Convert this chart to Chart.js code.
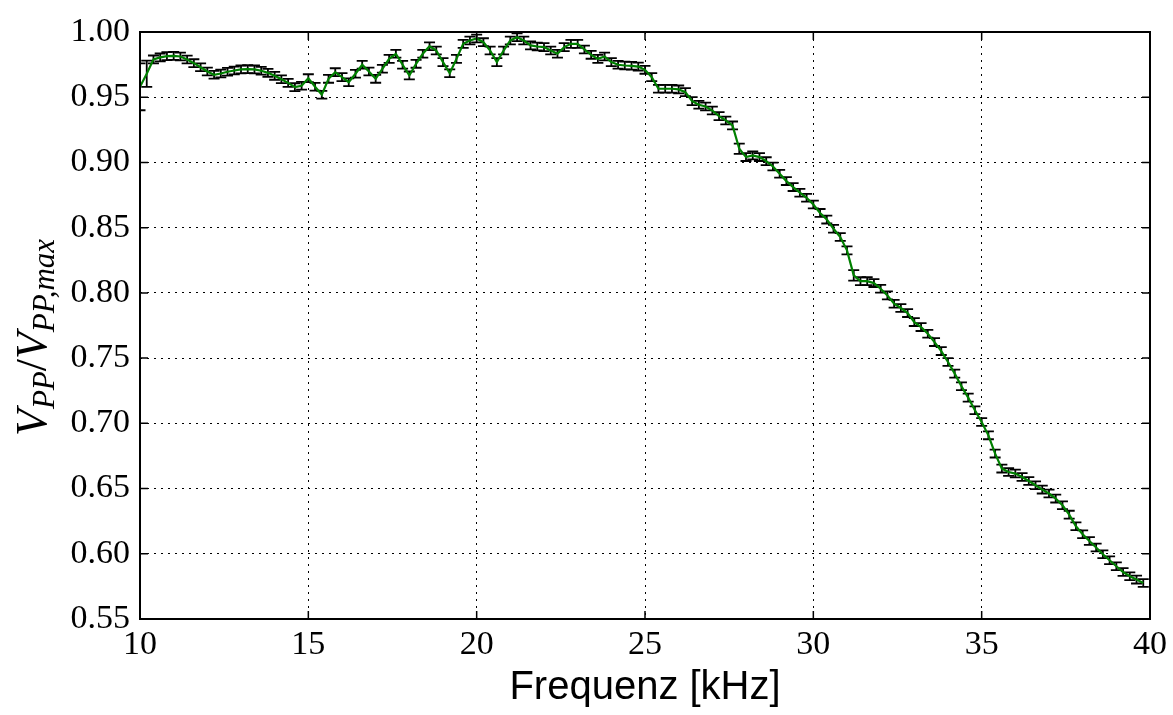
<!DOCTYPE html>
<html>
<head>
<meta charset="utf-8">
<script src="https://cdn.jsdelivr.net/npm/chart.js@4.4.0/dist/chart.umd.min.js"></script>
<style>
  html, body { margin: 0; padding: 0; background: #fff; }
  #wrap { width: 1173px; height: 715px; }
</style>
</head>
<body>
<div id="wrap"><canvas id="chart" width="1173" height="715"></canvas></div>
<script>
// Frequency in kHz
const freq = [
  10.0, 10.2, 10.4, 10.6, 10.8, 11.0, 11.2, 11.4, 11.6, 11.8,
  12.0, 12.2, 12.4, 12.6, 12.8, 13.0, 13.2, 13.4, 13.6, 13.8,
  14.0, 14.2, 14.4, 14.6, 14.8, 15.0, 15.2, 15.4, 15.6, 15.8,
  16.0, 16.2, 16.4, 16.6, 16.8, 17.0, 17.2, 17.4, 17.6, 17.8,
  18.0, 18.2, 18.4, 18.6, 18.8, 19.0, 19.2, 19.4, 19.6, 19.8,
  20.0, 20.2, 20.4, 20.6, 20.8, 21.0, 21.2, 21.4, 21.6, 21.8,
  22.0, 22.2, 22.4, 22.6, 22.8, 23.0, 23.2, 23.4, 23.6, 23.8,
  24.0, 24.2, 24.4, 24.6, 24.8, 25.0, 25.2, 25.4, 25.6, 25.8,
  26.0, 26.2, 26.4, 26.6, 26.8, 27.0, 27.2, 27.4, 27.6, 27.8,
  28.0, 28.2, 28.4, 28.6, 28.8, 29.0, 29.2, 29.4, 29.6, 29.8,
  30.0, 30.2, 30.4, 30.6, 30.8, 31.0, 31.2, 31.4, 31.6, 31.8,
  32.0, 32.2, 32.4, 32.6, 32.8, 33.0, 33.2, 33.4, 33.6, 33.8,
  34.0, 34.2, 34.4, 34.6, 34.8, 35.0, 35.2, 35.4, 35.6, 35.8,
  36.0, 36.2, 36.4, 36.6, 36.8, 37.0, 37.2, 37.4, 37.6, 37.8,
  38.0, 38.2, 38.4, 38.6, 38.8, 39.0, 39.2, 39.4, 39.6, 39.8
];

// V_PP / V_PP,max
const vpp = [
  0.958, 0.968, 0.979, 0.9805, 0.9815, 0.9817, 0.9812, 0.9789, 0.9761, 0.973,
  0.9697, 0.9672, 0.9682, 0.9695, 0.9705, 0.9713, 0.9715, 0.9713, 0.9703, 0.9687,
  0.9664, 0.9638, 0.961, 0.9577, 0.9588, 0.9646, 0.958, 0.9519, 0.9641, 0.9692,
  0.9654, 0.9615, 0.968, 0.9749, 0.9697, 0.9641, 0.9718, 0.9794, 0.9833, 0.9749,
  0.9667, 0.9756, 0.9833, 0.9891, 0.9858, 0.9769, 0.9684, 0.9794, 0.9909, 0.9935,
  0.995, 0.9922, 0.9858, 0.9769, 0.9858, 0.9935, 0.996, 0.9935, 0.9897, 0.9889,
  0.9884, 0.9858, 0.9833, 0.9884, 0.9909, 0.9909, 0.9866, 0.9825, 0.9794, 0.9812,
  0.9769, 0.9749, 0.9743, 0.9741, 0.9735, 0.971, 0.9654, 0.9565, 0.9565, 0.9565,
  0.956, 0.9539, 0.947, 0.9442, 0.9429, 0.9398, 0.9355, 0.9322, 0.9284, 0.9105,
  0.9041, 0.9054, 0.9041, 0.901, 0.8969, 0.8913, 0.8857, 0.8811, 0.8768, 0.8729,
  0.8678, 0.8613, 0.8562, 0.8492, 0.8428, 0.8326, 0.8134, 0.809, 0.809, 0.8075,
  0.8032, 0.7981, 0.7917, 0.7884, 0.7845, 0.7776, 0.7738, 0.7687, 0.7623, 0.7554,
  0.747, 0.7381, 0.7284, 0.7197, 0.71, 0.701, 0.6908, 0.6768, 0.6653, 0.6627,
  0.6615, 0.6589, 0.6558, 0.6525, 0.6492, 0.6462, 0.6423, 0.6372, 0.63, 0.6211,
  0.615, 0.6098, 0.6048, 0.5996, 0.595, 0.5904, 0.586, 0.5828, 0.5802, 0.5776
];

// error of each point
const vppErr = [
  0.018, 0.010, 0.003, 0.003, 0.003, 0.003, 0.003, 0.003, 0.003, 0.003,
  0.003, 0.003, 0.003, 0.003, 0.003, 0.003, 0.003, 0.003, 0.003, 0.003,
  0.003, 0.003, 0.003, 0.003, 0.003, 0.003, 0.003, 0.003, 0.003, 0.003,
  0.003, 0.003, 0.003, 0.003, 0.003, 0.003, 0.003, 0.003, 0.003, 0.003,
  0.003, 0.003, 0.003, 0.003, 0.003, 0.003, 0.003, 0.003, 0.003, 0.003,
  0.003, 0.003, 0.003, 0.003, 0.003, 0.003, 0.003, 0.003, 0.003, 0.003,
  0.003, 0.003, 0.003, 0.003, 0.003, 0.003, 0.003, 0.003, 0.003, 0.003,
  0.003, 0.003, 0.003, 0.003, 0.003, 0.003, 0.003, 0.003, 0.003, 0.003,
  0.003, 0.003, 0.003, 0.003, 0.003, 0.003, 0.003, 0.003, 0.003, 0.004,
  0.003, 0.003, 0.003, 0.003, 0.003, 0.003, 0.003, 0.003, 0.003, 0.003,
  0.003, 0.003, 0.003, 0.003, 0.003, 0.003, 0.004, 0.003, 0.003, 0.003,
  0.003, 0.003, 0.003, 0.003, 0.003, 0.003, 0.003, 0.003, 0.003, 0.003,
  0.003, 0.003, 0.003, 0.003, 0.003, 0.003, 0.003, 0.003, 0.003, 0.003,
  0.003, 0.003, 0.003, 0.003, 0.003, 0.003, 0.003, 0.003, 0.003, 0.003,
  0.003, 0.003, 0.003, 0.003, 0.003, 0.003, 0.003, 0.003, 0.003, 0.003
];

const xTicks = [10, 15, 20, 25, 30, 35, 40];
const yTicks = [0.55, 0.60, 0.65, 0.70, 0.75, 0.80, 0.85, 0.90, 0.95, 1.00];

// error bars go under the green line
const errorBars = {
  id: 'errorBars',
  beforeDatasetsDraw(chart) {
    const { ctx, chartArea: a, scales: { x, y } } = chart;
    ctx.save();
    ctx.beginPath();
    ctx.rect(a.left, a.top, a.width, a.height);
    ctx.clip();
    ctx.strokeStyle = '#000';
    ctx.lineWidth = 1.8;
    freq.forEach((f, i) => {
      const px = x.getPixelForValue(f);
      const top = y.getPixelForValue(vpp[i] + vppErr[i]);
      const bot = y.getPixelForValue(vpp[i] - vppErr[i]);
      ctx.beginPath();
      ctx.moveTo(px, top); ctx.lineTo(px, bot);
      ctx.moveTo(px - 5.5, top); ctx.lineTo(px + 5.5, top);
      ctx.moveTo(px - 5.5, bot); ctx.lineTo(px + 5.5, bot);
      ctx.stroke();
    });
    ctx.restore();
  }
};

// box, inward ticks on all sides, and the math y label
const frame = {
  id: 'frame',
  afterDraw(chart) {
    const { ctx, chartArea: a, scales: { x, y } } = chart;
    ctx.save();
    ctx.strokeStyle = '#000';
    ctx.lineWidth = 1.5;
    ctx.beginPath();
    xTicks.forEach(t => {
      const p = x.getPixelForValue(t);
      ctx.moveTo(p, a.bottom); ctx.lineTo(p, a.bottom - 8);
      ctx.moveTo(p, a.top); ctx.lineTo(p, a.top + 8);
    });
    yTicks.forEach(t => {
      const p = y.getPixelForValue(t);
      ctx.moveTo(a.left, p); ctx.lineTo(a.left + 8, p);
      ctx.moveTo(a.right, p); ctx.lineTo(a.right - 8, p);
    });
    ctx.stroke();
    ctx.lineWidth = 2;
    ctx.strokeRect(a.left, a.top, a.width, a.height);

    ctx.translate(46, 436);
    ctx.rotate(-Math.PI / 2);
    ctx.fillStyle = '#000';
    ctx.textAlign = 'left';
    ctx.textBaseline = 'alphabetic';
    const big = 'italic 44px "Liberation Serif"';
    const small = 'italic 31px "Liberation Serif"';
    const parts = [
      ['V', big, 0], ['PP', small, 8], ['/', '44px "Liberation Serif"', 0],
      ['V', big, 0], ['PP,max', small, 8]
    ];
    let cx = 0;
    parts.forEach(([t, f, dy]) => {
      ctx.font = f;
      ctx.fillText(t, cx, dy);
      cx += ctx.measureText(t).width;
    });
    ctx.restore();
  }
};

new Chart(document.getElementById('chart').getContext('2d'), {
  type: 'line',
  data: {
    datasets: [{
      data: freq.map((f, i) => ({ x: f, y: vpp[i] })),
      borderColor: '#008000',
      borderWidth: 2.2,
      pointRadius: 0,
      fill: false,
      tension: 0
    }]
  },
  options: {
    responsive: false,
    animation: false,
    layout: { padding: { left: 0, top: 32, right: 20, bottom: 0 } },
    plugins: { legend: { display: false }, tooltip: { enabled: false } },
    scales: {
      x: {
        type: 'linear',
        min: 10, max: 40,
        afterBuildTicks: s => { s.ticks = xTicks.map(v => ({ value: v })); },
        afterFit: s => { s.height = 96; },
        ticks: {
          font: { family: 'Liberation Serif', size: 34 },
          color: '#000', padding: 6, maxRotation: 0,
          callback: v => String(v)
        },
        grid: { color: '#000', lineWidth: 1, drawTicks: false },
        border: { display: false, dash: [2, 5] },
        title: {
          display: true, text: 'Frequenz [kHz]',
          font: { family: 'Liberation Sans', size: 40 },
          color: '#000', padding: { top: 0, bottom: 3 }
        }
      },
      y: {
        min: 0.55, max: 1.0,
        afterBuildTicks: s => { s.ticks = yTicks.map(v => ({ value: v })); },
        afterFit: s => { s.width = 140; },
        ticks: {
          font: { family: 'Liberation Serif', size: 34 },
          color: '#000', padding: 10,
          callback: v => v.toFixed(2)
        },
        grid: { color: '#000', lineWidth: 1, drawTicks: false },
        border: { display: false, dash: [2, 5] }
      }
    }
  },
  plugins: [errorBars, frame]
});
</script>
</body>
</html>
